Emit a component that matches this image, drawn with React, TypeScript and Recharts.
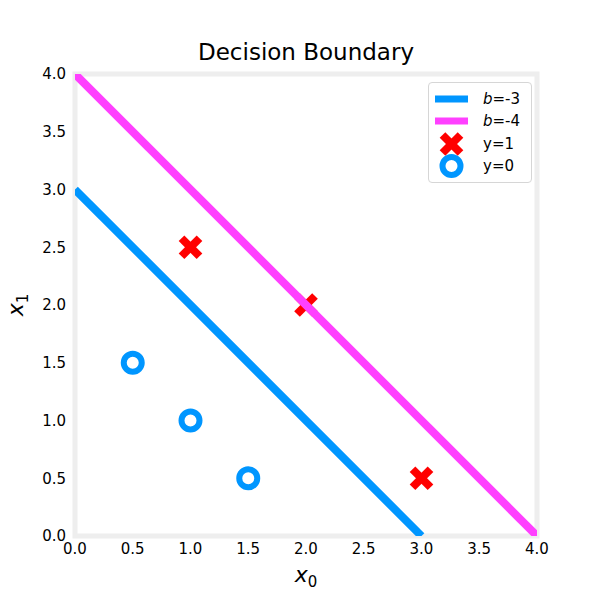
import React from "react";
import {
  ScatterChart,
  Scatter,
  XAxis,
  YAxis,
  ReferenceArea,
  Legend,
} from "recharts";

const xTicks = [0, 0.5, 1, 1.5, 2, 2.5, 3, 3.5, 4];
const yTicks = [0, 0.5, 1, 1.5, 2, 2.5, 3, 3.5, 4];

// class y=1 points
const posX0 = [1, 2, 3];
const posX1 = [2.5, 2, 0.5];
// class y=0 points
const negX0 = [0.5, 1, 1.5];
const negX1 = [1.5, 1, 0.5];

// decision boundaries x0 + x1 + b = 0
const b3X0 = [0, 3];
const b3X1 = [3, 0];
const b4X0 = [0, 4];
const b4X1 = [4, 0];

const BLUE = "#0096ff";
const MAGENTA = "#ff40ff";
const RED = "#ff0000";
const FONT = "DejaVu Sans, Verdana, sans-serif";

const toPts = (xs: number[], ys: number[]) => xs.map((x, i) => ({ x, y: ys[i] }));

const posData = toPts(posX0, posX1);
const negData = toPts(negX0, negX1);
const b3Data = toPts(b3X0, b3X1);
const b4Data = toPts(b4X0, b4X1);

const XMark = (props: any) => {
  const { cx, cy } = props;
  const s = 9;
  return (
    <g>
      <line x1={cx - s} y1={cy - s} x2={cx + s} y2={cy + s} stroke={RED} strokeWidth={8} />
      <line x1={cx - s} y1={cy + s} x2={cx + s} y2={cy - s} stroke={RED} strokeWidth={8} />
    </g>
  );
};

const Ring = (props: any) => {
  const { cx, cy } = props;
  return <circle cx={cx} cy={cy} r={9} fill="#fff" stroke={BLUE} strokeWidth={6} />;
};

const NoDot = () => <g />;

const legendItems = [
  { kind: "line", color: MAGENTA, label: "-4", italicB: true },
];

const LegendBox = () => {
  const rowTop = [16, 38, 61, 83];
  const row = (i: number, swatch: React.ReactNode, text: React.ReactNode) => (
    <div
      key={i}
      style={{
        position: "absolute",
        left: 0,
        top: rowTop[i] - 12,
        height: 24,
        width: 104,
      }}
    >
      <svg width={48} height={24} style={{ position: "absolute", left: 0, top: 0 }}>
        {swatch}
      </svg>
      <div
        style={{
          position: "absolute",
          left: 54,
          top: 0,
          lineHeight: "24px",
          fontSize: 15,
          fontFamily: FONT,
          color: "#000",
          whiteSpace: "nowrap",
        }}
      >
        {text}
      </div>
    </div>
  );
  return (
    <div
      style={{
        position: "relative",
        width: 104,
        height: 101,
        boxSizing: "border-box",
        border: "1px solid #d6d6d6",
        borderRadius: 4,
        background: "rgba(255,255,255,0.85)",
      }}
    >
      {row(0, <rect x={6} y={8.5} width={33} height={7} fill={BLUE} />, <span><i>b</i>=-3</span>)}
      {row(1, <rect x={6} y={8.5} width={33} height={7} fill={MAGENTA} />, <span><i>b</i>=-4</span>)}
      {row(2, <XMark cx={22.5} cy={12} />, "y=1")}
      {row(3, <Ring cx={22.5} cy={12} />, "y=0")}
    </div>
  );
};

const XLabel = (props: any) => {
  const { viewBox } = props;
  const cx = viewBox.x + viewBox.width / 2;
  return (
    <text x={cx} y={582} textAnchor="middle" fontFamily={FONT} fontSize={22} fill="#000">
      <tspan fontStyle="italic">x</tspan>
      <tspan fontSize={15} dy={5}>0</tspan>
    </text>
  );
};

const YLabel = (props: any) => {
  const { viewBox } = props;
  const cy = viewBox.y + viewBox.height / 2;
  return (
    <text
      x={23}
      y={cy}
      transform={`rotate(-90 23 ${cy})`}
      textAnchor="middle"
      fontFamily={FONT}
      fontSize={22}
      fill="#000"
    >
      <tspan fontStyle="italic">x</tspan>
      <tspan fontSize={15} dy={5}>1</tspan>
    </text>
  );
};

const fmt = (v: number) => v.toFixed(1);

export default function App() {
  return (
    <div style={{ position: "absolute", left: 0, top: 0, width: 601, height: 601, background: "#fff" }}>
      <div
        style={{
          position: "absolute",
          left: 0,
          width: 612,
          top: 41,
          textAlign: "center",
          fontFamily: FONT,
          fontSize: 23,
          lineHeight: "23px",
          color: "#000",
        }}
      >
        Decision Boundary
      </div>
      <ScatterChart
        width={601}
        height={601}
        margin={{ top: 74, right: 64, left: 15, bottom: 25 }}
      >
        <XAxis
          type="number"
          dataKey="x"
          domain={[0, 4]}
          ticks={xTicks}
          tickFormatter={fmt}
          allowDataOverflow
          axisLine={false}
          tickLine={false}
          tickSize={0}
          tickMargin={7}
          height={40}
          tick={{ fill: "#000", fontSize: 15, fontFamily: FONT }}
          label={{ content: XLabel }}
        />
        <YAxis
          type="number"
          dataKey="y"
          domain={[0, 4]}
          ticks={yTicks}
          tickFormatter={fmt}
          allowDataOverflow
          axisLine={false}
          tickLine={false}
          tickSize={0}
          tickMargin={9}
          width={60}
          tick={{ fill: "#000", fontSize: 15, fontFamily: FONT }}
          label={{ content: YLabel }}
        />
        <Scatter name="y=1" data={posData} shape={XMark} isAnimationActive={false} />
        <Scatter name="y=0" data={negData} shape={Ring} isAnimationActive={false} />
        <Scatter
          name="b=-3"
          data={b3Data}
          line={{ stroke: BLUE, strokeWidth: 8 }}
          shape={NoDot}
          isAnimationActive={false}
        />
        <Scatter
          name="b=-4"
          data={b4Data}
          line={{ stroke: MAGENTA, strokeWidth: 8 }}
          shape={NoDot}
          isAnimationActive={false}
        />
        <ReferenceArea
          x1={0}
          x2={4}
          y1={0}
          y2={4}
          fill="none"
          stroke="#eeeeee"
          strokeWidth={5}
          ifOverflow="visible"
        />
        <Legend
          layout="vertical"
          align="center"
          verticalAlign="middle"
          content={<LegendBox />}
          wrapperStyle={{ left: 428, top: 82, width: 104, height: 101 }}
        />
      </ScatterChart>
    </div>
  );
}
